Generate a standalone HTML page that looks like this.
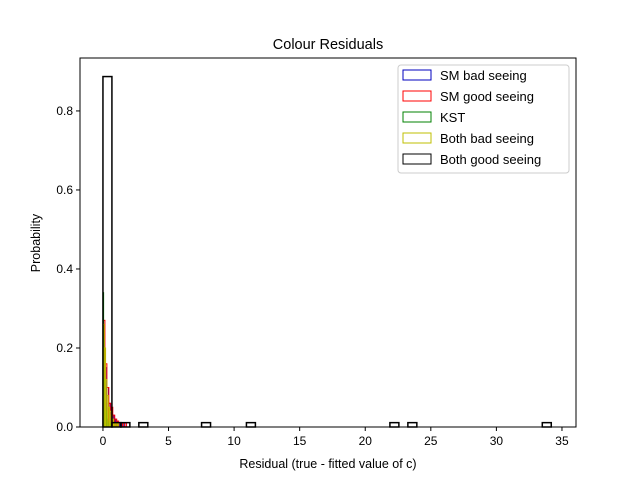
<!DOCTYPE html>
<html><head><meta charset="utf-8"><style>body{margin:0;background:#fff}svg{display:block;font-family:"Liberation Sans","DejaVu Sans",sans-serif}</style></head>
<body>
<svg id="c" width="640" height="480"></svg>
<script>
const blackLefts=[0,0.684,1.368,2.736,7.52,10.94,21.88,23.25,33.5];
const blackVals=[0.887,0.011,0.011,0.011,0.011,0.011,0.011,0.011,0.011];
const blackW=0.684;
const greenVals=[0.34,0.22,0.12,0.06,0.04,0.03,0.02,0.015,0.01,0.01,0,0.01];
const yellowVals=[0.26,0.2,0.12,0.08,0.05,0.04,0.03,0.02,0.01,0.01,0.01,0.01];
const redVals=[0.27,0.16,0.1,0.06,0.05,0.03,0.02,0.015,0.01,0.01,0.01,0.01];
const blueVals=[0.2,0.15,0.1,0.06,0.04,0.03,0.02,0.015,0.01,0.01,0.01,0.01];
const xTicks=[0,5,10,15,20,25,30,35];
const yTicks=[0,0.2,0.4,0.6,0.8];
const L=80,R=576,T=58,B=427;
const X=v=>L+(v+1.75)/(37.82)*(R-L);
const Y=v=>B-v/0.934*(B-T);
const svg=document.getElementById('c');const NS='http://www.w3.org/2000/svg';
function mk(t,a,txt){const e=document.createElementNS(NS,t);for(const k in a)e.setAttribute(k,a[k]);if(txt!=null)e.textContent=txt;svg.appendChild(e);return e;}
function series(vals,w,col,name){vals.forEach((v,i)=>{if(v<=0)return;const x0=X(i*w),x1=X((i+1)*w);
const r=mk('rect',{x:x0,y:Y(v),width:Math.max(x1-x0,0.5),height:B-Y(v),fill:'none',stroke:col,'stroke-width':1});

});}
series(blueVals,0.14,'#0000bf','sm-bad-seeing');
series(redVals,0.15,'red','sm-good-seeing');
series(greenVals,0.05,'green','kst');
series(yellowVals,0.1,'#bfbf00','both-bad-seeing');
blackLefts.forEach((x,i)=>{const v=blackVals[i];if(v<=0)return;
const r=mk('rect',{x:X(x),y:Y(v),width:X(x+blackW)-X(x),height:B-Y(v),fill:'none',stroke:'#000','stroke-width':1.5});

});
mk('rect',{x:L,y:T,width:R-L,height:B-T,fill:'none',stroke:'#000','stroke-width':1,});
xTicks.forEach(t=>{mk('line',{x1:X(t),x2:X(t),y1:B,y2:B+4,stroke:'#000'});const e=mk('text',{x:X(t),y:B+18,'font-size':12,'text-anchor':'middle'},t);});
yTicks.forEach(t=>{mk('line',{x1:L-4,x2:L,y1:Y(t),y2:Y(t),stroke:'#000'});const e=mk('text',{x:L-7,y:Y(t)+4,'font-size':12,'text-anchor':'end'},t.toFixed(1));});
mk('text',{x:328,y:49,'font-size':14.5,'text-anchor':'middle',},'Colour Residuals');
mk('text',{x:328,y:468,'font-size':12.5,'text-anchor':'middle',},'Residual (true - fitted value of c)');
mk('text',{x:40,y:243,'font-size':12.5,'text-anchor':'middle',transform:'rotate(-90 40 243)',},'Probability');
mk('rect',{x:398,y:65,width:171,height:108,rx:3,fill:'#fff',stroke:'#ccc',});
const leg=[['SM bad seeing','#0000bf'],['SM good seeing','red'],['KST','green'],['Both bad seeing','#bfbf00'],['Both good seeing','#000']];
leg.forEach((l,i)=>{const y=70+i*21;mk('rect',{x:403,y:y,width:28,height:10,fill:'none',stroke:l[1]});
const e=mk('text',{x:440,y:y+10,'font-size':13},l[0]);});
</script>
</body></html>
